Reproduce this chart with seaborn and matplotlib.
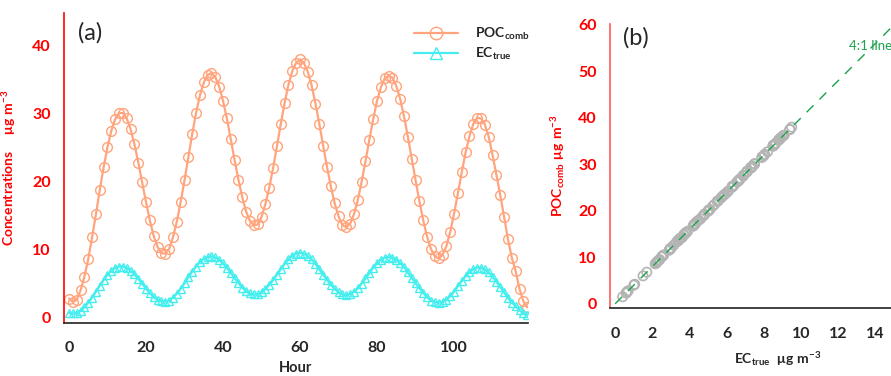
import numpy as np
import pandas as pd
import seaborn as sns
import matplotlib.pyplot as plt
from matplotlib.lines import Line2D

# Data (hourly)
hours = list(range(120))
poc_comb = [2.8, 2.3, 2.6, 4.0, 6.0, 8.6, 11.8, 15.2, 18.8, 22.1,
            25.1, 27.5, 29.2, 30.1, 30.1, 29.3, 27.7, 25.5, 22.8, 19.9,
            17.0, 14.3, 12.0, 10.4, 9.5, 9.4, 10.1, 11.8, 14.1, 17.0,
            20.2, 23.6, 27.0, 30.1, 32.7, 34.6, 35.7, 36.0, 35.4, 34.0,
            31.9, 29.3, 26.3, 23.2, 20.3, 17.7, 15.6, 14.2, 13.6, 13.7,
            14.8, 16.7, 19.1, 22.0, 25.2, 28.5, 31.6, 34.3, 36.3, 37.5,
            38.0, 37.5, 36.2, 34.2, 31.5, 28.5, 25.3, 22.2, 19.3, 16.8,
            14.9, 13.6, 13.3, 13.8, 15.2, 17.3, 20.0, 23.0, 26.2, 29.2,
            31.9, 33.9, 35.2, 35.6, 35.3, 34.1, 32.2, 29.6, 26.6, 23.4,
            20.2, 17.1, 14.3, 11.9, 10.1, 9.0, 8.7, 9.2, 10.5, 12.6,
            15.3, 18.3, 21.4, 24.3, 26.7, 28.5, 29.4, 29.3, 28.4, 26.6,
            23.9, 21.0, 18.0, 14.8, 11.5, 8.8, 6.8, 4.2, 2.4, 1.5]
ec_true = [0.7, 0.6, 0.65, 1.0, 1.5, 2.15, 2.95, 3.8, 4.7, 5.5,
           6.3, 6.9, 7.3, 7.5, 7.5, 7.3, 6.9, 6.4, 5.7, 5.0,
           4.25, 3.6, 3.0, 2.6, 2.4, 2.35, 2.5, 2.95, 3.5, 4.25,
           5.05, 5.9, 6.75, 7.5, 8.2, 8.65, 8.9, 9.0, 8.85, 8.5,
           8.0, 7.3, 6.6, 5.8, 5.1, 4.4, 3.9, 3.55, 3.4, 3.4,
           3.7, 4.2, 4.8, 5.5, 6.3, 7.1, 7.9, 8.6, 9.1, 9.4,
           9.5, 9.4, 9.05, 8.55, 7.9, 7.1, 6.3, 5.55, 4.8, 4.2,
           3.7, 3.4, 3.3, 3.45, 3.8, 4.3, 5.0, 5.75, 6.55, 7.3,
           8.0, 8.5, 8.8, 8.9, 8.8, 8.5, 8.05, 7.4, 6.65, 5.85,
           5.05, 4.3, 3.6, 3.0, 2.5, 2.25, 2.2, 2.3, 2.6, 3.15,
           3.8, 4.6, 5.35, 6.1, 6.7, 7.1, 7.35, 7.3, 7.1, 6.65,
           6.0, 5.25, 4.5, 3.7, 2.9, 2.2, 1.7, 1.05, 0.6, 0.4]
ratio_line_x = [0, 15]
ratio_line_y = [0, 60]

df = pd.DataFrame({'hour': hours, 'poc': poc_comb, 'ec': ec_true})

sns.set_style('white')
plt.rcParams['font.family'] = ['Lato', 'DejaVu Sans']
plt.rcParams['mathtext.fontset'] = 'custom'
plt.rcParams['mathtext.rm'] = 'Lato'
plt.rcParams['mathtext.bf'] = 'Lato:bold'

poc_col = '#ffa47c'
ec_col = '#45eeee'
red = '#ff0000'

fig = plt.figure(figsize=(8.91, 3.76), dpi=100)

# ---- panel (a)
ax1 = fig.add_axes([0.0718, 0.141, 0.5208, 0.824])
sns.lineplot(data=df, x='hour', y='poc', ax=ax1, color=poc_col, lw=1.6,
             marker='o', markersize=7, markerfacecolor='none',
             markeredgecolor=poc_col, markeredgewidth=1.0)
sns.lineplot(data=df, x='hour', y='ec', ax=ax1, color=ec_col, lw=1.6,
             marker='^', markersize=6, markerfacecolor='none',
             markeredgecolor=ec_col, markeredgewidth=1.0)
ax1.set_xlim(-1.3, 119.2)
ax1.set_ylim(-0.8, 44.8)
ax1.set_xticks([0, 20, 40, 60, 80, 100])
ax1.set_yticks([0, 10, 20, 30, 40])
for s in ['top', 'right']:
    ax1.spines[s].set_visible(False)
ax1.spines['left'].set_color(red)
ax1.spines['bottom'].set_color('#222222')
ax1.spines['left'].set_linewidth(1.2)
ax1.spines['bottom'].set_linewidth(1.2)
ax1.tick_params(axis='x', direction='out', length=6, width=1.2, color='#444444',
                labelsize=11.5, pad=7)
ax1.tick_params(axis='y', direction='out', length=6, width=1.2, color=red,
                labelcolor=red, labelsize=11.5)
for t in ax1.get_xticklabels() + ax1.get_yticklabels():
    t.set_fontweight('bold')
ax1.set_xlabel('Hour', fontsize=10.5, fontweight='bold', labelpad=4)
ax1.set_ylabel(r'Concentrations     $\mathbf{\mu g\ m^{-3}}$', fontsize=10,
               fontweight='bold', color=red, labelpad=10)
ax1.text(0.03, 0.97, '(a)', transform=ax1.transAxes, fontsize=17, va='top')
handles = [Line2D([], [], color=poc_col, lw=1.6, marker='o', markersize=9,
                  markerfacecolor='none', markeredgewidth=1.0),
           Line2D([], [], color=ec_col, lw=1.6, marker='^', markersize=8,
                  markerfacecolor='none', markeredgewidth=1.0)]
ax1.legend(handles, [r'$\mathbf{POC_{comb}}$', r'$\mathbf{EC_{true}}$'],
           loc='upper right', bbox_to_anchor=(1.03, 1.0), frameon=False,
           fontsize=10, handlelength=3.2, labelspacing=0.3, handletextpad=1.2)

# ---- panel (b)
ax2 = fig.add_axes([0.6846, 0.181, 0.377, 0.755])
ax2.plot(ratio_line_x, ratio_line_y, color='#1aa34a', lw=1.0, ls=(0, (7, 6)))
sns.scatterplot(data=df, x='ec', y='poc', ax=ax2, s=45, facecolors='none',
                edgecolor='#b4b4b4', linewidth=1.2)
ax2.set_xlim(-0.28, 17.8)
ax2.set_ylim(-0.9, 60.2)
ax2.set_xticks([0, 2, 4, 6, 8, 10, 12, 14])
ax2.set_yticks([0, 10, 20, 30, 40, 50, 60])
for s in ['top', 'right']:
    ax2.spines[s].set_visible(False)
ax2.spines['left'].set_color('#ff5a5a')
ax2.spines['bottom'].set_color('#222222')
ax2.spines['left'].set_linewidth(1.2)
ax2.spines['bottom'].set_linewidth(1.2)
ax2.tick_params(axis='x', direction='out', length=6, width=1.2, color='#444444',
                labelsize=11.5, pad=8)
ax2.tick_params(axis='y', direction='out', length=6, width=1.2, color='#ff5a5a',
                labelcolor=red, labelsize=11.5)
for t in ax2.get_xticklabels() + ax2.get_yticklabels():
    t.set_fontweight('bold')
ax2.set_xlabel(r'$\mathbf{EC_{true}}$  $\mathbf{\mu g\ m^{-3}}$', fontsize=10,
               labelpad=6)
ax2.set_ylabel(r'$\mathbf{POC_{comb}\ \mu g\ m^{-3}}$', fontsize=10, color=red,
               labelpad=8)
ax2.text(0.04, 0.99, '(b)', transform=ax2.transAxes, fontsize=17, va='top')
ax2.text(12.6, 55.5, '4:1 line', color='#1aa34a', fontsize=9.5, va='center')

fig.savefig('out.png', dpi=100)
